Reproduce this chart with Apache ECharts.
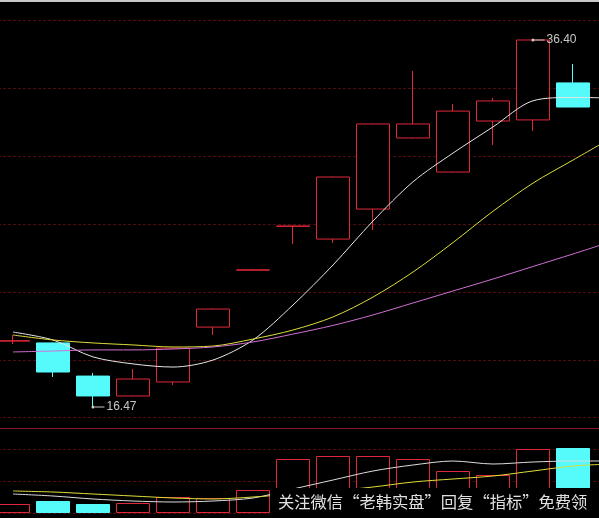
<!DOCTYPE html>
<html>
<head>
<meta charset="utf-8">
<script src="https://cdn.jsdelivr.net/npm/echarts@6/dist/echarts.min.js"></script>
<style>
html,body{margin:0;padding:0;background:#000;overflow:hidden;width:599px;height:518px;position:relative;}
#c{position:absolute;left:-7px;top:0;width:640px;height:518px;}
</style>
</head>
<body>
<div id="c"></div>
<script>
// ---- data ----
var categories = ['1','2','3','4','5','6','7','8','9','10','11','12','13','14','15','16'];
var openP  = [20.05, 19.95, 18.15, 17.07, 17.83, 20.81, 23.90, 26.28, 25.59, 27.22, 31.08, 29.23, 32.00, 32.06, 34.07];
var closeP = [20.07, 18.37, 17.07, 17.99, 19.67, 21.79, 23.92, 26.30, 28.96, 31.84, 31.84, 32.54, 33.09, 36.40, 32.76];
var lowP   = [19.89, 18.10, 16.47, 17.05, 17.67, 20.38, 23.88, 25.32, 25.38, 26.08, 31.05, 29.20, 30.70, 31.46, 32.76];
var highP  = [20.38, 19.97, 18.32, 18.53, 19.70, 21.82, 23.94, 26.32, 28.98, 31.86, 34.72, 32.92, 33.25, 36.40, 35.10];
var volume = [9, 12, 9, 10, 16, 15, 23, 54, 57, 57, 54, 42, 38, 64, 65];
var ma5  = [20.54, 20.11, 19.19, 18.81, 18.64, 19.02, 20.11, 22.01, 24.18, 26.57, 28.70, 30.26, 31.68, 33.10, 33.28, 33.25];
var ma10 = [20.38, 20.11, 19.95, 19.84, 19.73, 19.78, 20.16, 20.65, 21.36, 22.44, 23.80, 25.40, 27.10, 28.63, 29.88, 31.13];
var ma20 = [19.46, 19.51, 19.57, 19.57, 19.62, 19.73, 20.00, 20.43, 20.90, 21.47, 22.12, 22.77, 23.42, 24.10, 24.78, 25.48];
var volMa5  = [19, 17, 14, 12, 11, 12, 15, 24, 33, 42, 48, 52, 49, 51, 52, 52];
var volMa10 = [22, 21, 19, 17, 15, 14, 16, 19, 22, 26, 31, 34, 37, 42, 47, 49];
var maxLabel = {idx: 13, value: 36.40, text: '36.40'};
var minLabel = {idx: 2, value: 16.47, text: '16.47'};
var watermark = '关注微信“老韩实盘”回复“指标”免费领';

// ---- build ----
var RED = '#e0283a', CYAN = '#55fbfb';
var OFF = 7; // chart canvas is shifted 7px left of the page
var kData = openP.map(function(o, i){ return [o, closeP[i], lowP[i], highP[i]]; });
var volData = volume.map(function(v, i){
  var up = closeP[i] >= openP[i];
  return {value: v, itemStyle: up ? {color: '#000', borderColor: RED, borderWidth: 1} : {color: CYAN, borderColor: CYAN, borderWidth: 1}};
});
function markLbl(m){
  return {
    coord: [m.idx, m.value], value: m.text,
    symbol: 'circle', symbolSize: 3, itemStyle: {color: '#d0d0d0'},
    label: {show: true, position: 'right', distance: 0,
      formatter: '{l|}{t|' + m.text + '}',
      rich: {l: {width: 10, height: 1, backgroundColor: '#c8c8c8'},
             t: {color: '#c8c8c8', fontSize: 12, fontFamily: 'Liberation Sans, Arial', padding: [0,0,0,2]}}}
  };
}
var gridDash = {show: true, lineStyle: {color: '#4e0c12', type: [3, 2], width: 1}};
var chart = echarts.init(document.getElementById('c'), null, {renderer: 'canvas'});
chart.setOption({
  animation: false,
  backgroundColor: '#000',
  grid: [
    {left: 0, width: 640, top: 20, height: 408},
    {left: 0, width: 640, top: 417, height: 96}
  ],
  xAxis: [
    {type: 'category', gridIndex: 0, data: categories, boundaryGap: true,
     axisLine: {show: true, onZero: false, lineStyle: {color: '#8a1a2a', width: 1}},
     axisTick: {show: false}, axisLabel: {show: false}, splitLine: {show: false}},
    {type: 'category', gridIndex: 1, data: categories, boundaryGap: true,
     axisLine: {show: false}, axisTick: {show: false}, axisLabel: {show: false}, splitLine: {show: false}}
  ],
  yAxis: [
    {type: 'value', gridIndex: 0, min: 15.330, max: 37.486, scale: true,
     axisLine: {show: false}, axisTick: {show: false}, axisLabel: {show: false}, splitLine: {show: false}},
    {type: 'value', gridIndex: 0, min: 0, max: 6, interval: 1,
     axisLine: {show: false}, axisTick: {show: false}, axisLabel: {show: false}, splitLine: gridDash},
    {type: 'value', gridIndex: 1, min: 0, max: 96, interval: 32,
     axisLine: {show: false}, axisTick: {show: false}, axisLabel: {show: false}, splitLine: gridDash}
  ],
  series: [
    {type: 'candlestick', xAxisIndex: 0, yAxisIndex: 0, data: kData, barWidth: 34,
     itemStyle: {color: '#000', color0: CYAN, borderColor: RED, borderColor0: CYAN, borderWidth: 1},
     markPoint: {data: [markLbl(maxLabel), markLbl(minLabel)]}},
    {type: 'line', xAxisIndex: 0, yAxisIndex: 0, data: ma5, smooth: 0.3, symbol: 'none',
     lineStyle: {color: '#e6e6e6', width: 1}},
    {type: 'line', xAxisIndex: 0, yAxisIndex: 0, data: ma10, smooth: 0.3, symbol: 'none',
     lineStyle: {color: '#dede3c', width: 1}},
    {type: 'line', xAxisIndex: 0, yAxisIndex: 0, data: ma20, smooth: 0.3, symbol: 'none',
     lineStyle: {color: '#d070d4', width: 1}},
    {type: 'bar', xAxisIndex: 1, yAxisIndex: 2, data: volData, barWidth: 34},
    {type: 'line', xAxisIndex: 1, yAxisIndex: 2, data: volMa5, smooth: 0.3, symbol: 'none',
     lineStyle: {color: '#dcdcdc', width: 1}},
    {type: 'line', xAxisIndex: 1, yAxisIndex: 2, data: volMa10, smooth: 0.3, symbol: 'none',
     lineStyle: {color: '#dede3c', width: 1}}
  ],
  graphic: [
    {type: 'rect', left: 0, top: 0, shape: {width: 640, height: 2}, style: {fill: '#c8c8c8'}, z: 100},
    {type: 'rect', left: 270 + OFF, top: 488, shape: {width: 340, height: 30}, style: {fill: '#000'}, z: 100},
    {type: 'text', left: 278 + OFF, top: 494, z: 101,
     style: {text: watermark, fill: '#e0e0e0', fontSize: 16.3, fontFamily: 'Noto Sans CJK SC'}}
  ]
});
</script>
</body>
</html>
